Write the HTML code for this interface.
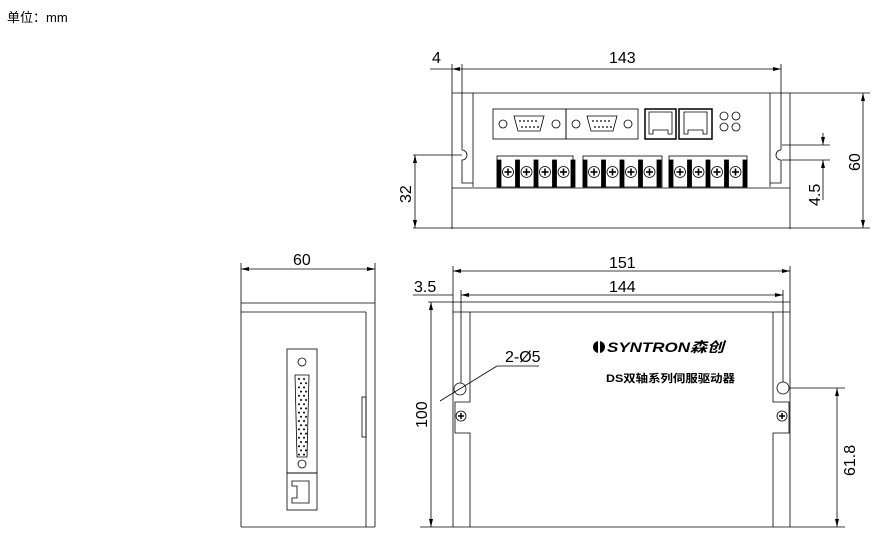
<!DOCTYPE html>
<html><head><meta charset="utf-8"><style>
html,body{margin:0;padding:0;background:#fff;}
svg{display:block;}
text{font-family:"Liberation Sans","Noto Sans CJK SC",sans-serif;fill:#000;}
</style></head><body>
<svg id="s" width="874" height="536" viewBox="0 0 874 536" xmlns="http://www.w3.org/2000/svg">
<defs>
<marker id="a" markerWidth="8" markerHeight="4" refX="8" refY="2" orient="auto-start-reverse" markerUnits="userSpaceOnUse"><path d="M0,0 L8,2 L0,4z" fill="#000"/></marker>
</defs>
<text x="7" y="22" font-size="13">单位：mm</text>
<g stroke="#000" stroke-width="0.8" fill="none">
<!-- TOP VIEW -->
<line x1="452" y1="64" x2="452" y2="229"/>
<line x1="462" y1="64" x2="462" y2="150"/>
<line x1="781" y1="64" x2="781" y2="150"/>
<line x1="430" y1="69" x2="452" y2="69"/>
<line x1="452" y1="69" x2="781" y2="69" marker-start="url(#a)" marker-end="url(#a)"/>
<line x1="452" y1="93" x2="870" y2="93"/>
<line x1="790" y1="93" x2="790" y2="229"/>
<line x1="473" y1="93" x2="473" y2="187"/>
<line x1="770" y1="93" x2="770" y2="187"/>
<path d="M462,150 A5,5 0 0 1 462,160 L462,183 L473,183"/>
<path d="M781,150 A5,5 0 0 0 781,160 L781,183 L770,183"/>
<line x1="413" y1="155" x2="462" y2="155"/>
<line x1="452" y1="188" x2="790" y2="188"/>
<line x1="413" y1="228" x2="870" y2="228"/>
<line x1="415" y1="155" x2="415" y2="228" marker-start="url(#a)" marker-end="url(#a)"/>
<line x1="863" y1="93" x2="863" y2="228" marker-start="url(#a)" marker-end="url(#a)"/>
<line x1="782" y1="145" x2="830" y2="145"/>
<line x1="782" y1="160" x2="830" y2="160"/>
<line x1="823" y1="133" x2="823" y2="145" marker-end="url(#a)"/>
<line x1="823" y1="200" x2="823" y2="160" marker-end="url(#a)"/>
<!-- connectors -->
<rect x="493" y="109" width="73" height="30"/>
<rect x="566" y="109" width="72" height="30"/>
<path d="M514,116 h30 l-4,15 h-22z"/>
<path d="M587,116 h30 l-4,15 h-22z"/>
<circle cx="503" cy="124" r="4"/><circle cx="556" cy="124" r="4"/>
<circle cx="576" cy="124" r="4"/><circle cx="628" cy="124" r="4"/>
<rect x="645" y="109" width="31" height="30" stroke-width="1.5"/>
<rect x="679" y="109" width="33" height="30" stroke-width="1.5"/>
<path d="M649,112 h23 v22 h-4 v-4 h-15 v4 h-4z"/>
<path d="M684,112 h23 v22 h-4 v-4 h-15 v4 h-4z"/>
<circle cx="724" cy="116" r="4"/><circle cx="736" cy="116" r="4"/>
<circle cx="724" cy="127" r="4"/><circle cx="736" cy="127" r="4"/>
<rect x="497" y="156" width="76" height="31"/>
<rect x="583" y="156" width="79" height="31"/>
<rect x="669" y="156" width="78" height="31"/>
<g id="screws"></g>
<!-- FRONT VIEW -->
<line x1="453" y1="266" x2="453" y2="527"/>
<line x1="790" y1="266" x2="790" y2="527"/>
<line x1="453" y1="271" x2="790" y2="271" marker-start="url(#a)" marker-end="url(#a)"/>
<line x1="413" y1="295" x2="453" y2="295"/>
<line x1="461" y1="295" x2="783" y2="295" marker-start="url(#a)" marker-end="url(#a)"/>
<line x1="461" y1="290" x2="461" y2="383"/>
<line x1="783" y1="290" x2="783" y2="382"/>
<line x1="428" y1="302" x2="790" y2="302"/>
<line x1="453" y1="312" x2="790" y2="312"/>
<path d="M470,312 V402 H455 V433 H470 V527"/>
<path d="M773,312 V402 H789 V433 H773 V527"/>
<circle cx="460" cy="389" r="6"/>
<circle cx="783" cy="388" r="6"/>
<line x1="420" y1="527" x2="845" y2="527"/>
<line x1="431" y1="302" x2="431" y2="527" marker-start="url(#a)" marker-end="url(#a)"/>
<line x1="789" y1="388" x2="845" y2="388"/>
<line x1="837" y1="388" x2="837" y2="527" marker-start="url(#a)" marker-end="url(#a)"/>
<line x1="539" y1="366" x2="497" y2="366"/>
<line x1="497" y1="366" x2="440" y2="401"/>
<circle cx="461" cy="416" r="5"/><circle cx="782" cy="416" r="5"/>
<!-- SIDE VIEW -->
<line x1="241" y1="263" x2="241" y2="527"/>
<line x1="375" y1="263" x2="375" y2="527"/>
<line x1="241" y1="269" x2="375" y2="269" marker-start="url(#a)" marker-end="url(#a)"/>
<line x1="241" y1="303" x2="375" y2="303"/>
<line x1="241" y1="312" x2="366" y2="312"/>
<line x1="366" y1="312" x2="366" y2="527"/>
<line x1="241" y1="527" x2="375" y2="527"/>
<rect x="362" y="397" width="4" height="40"/>
<rect x="287" y="349" width="30" height="124"/>
<rect x="287" y="473" width="30" height="37"/>
<path d="M292,481 h17 v22 h-17 v-5 h5 v-12 h-5z"/>
<path d="M295,375 h14 l-2,82 h-10z"/>
<circle cx="302" cy="362" r="4"/><circle cx="302" cy="464" r="4"/>
</g>
<g id="dots" fill="#000"></g>
<g font-size="16">
<text x="432" y="63">4</text>
<text x="609" y="63">143</text>
<text x="609" y="268">151</text>
<text x="414" y="292">3.5</text>
<text x="609" y="292">144</text>
<text x="293" y="265">60</text>
<text x="505" y="362">2-Ø5</text>
<text transform="translate(411,203) rotate(-90)">32</text>
<text transform="translate(860,171) rotate(-90)">60</text>
<text transform="translate(820,206) rotate(-90)">4.5</text>
<text transform="translate(427,428) rotate(-90)">100</text>
<text transform="translate(855,476) rotate(-90)">61.8</text>
</g>
<circle cx="599" cy="347" r="6" fill="#000"/>
<rect x="598" y="341" width="2" height="12" fill="#fff"/>
<text x="607" y="352" font-size="14" font-weight="bold" font-style="italic" textLength="117" lengthAdjust="spacingAndGlyphs">SYNTRON森创</text>
<text x="606" y="382" font-size="11" font-weight="bold" textLength="129" lengthAdjust="spacingAndGlyphs">DS双轴系列伺服驱动器</text>
</svg>
<script>
var ns="http://www.w3.org/2000/svg",g=document.getElementById("screws");
function el(t,a){var e=document.createElementNS(ns,t);for(var k in a)e.setAttribute(k,a[k]);g.appendChild(e);return e;}
[497,583,669].forEach(function(x0){
 for(var i=0;i<5;i++){el("rect",{x:x0+i*18.5,y:160,width:4,height:27,fill:"#000"});}
 for(var i=0;i<4;i++){var cx=x0+i*18.5+11;el("circle",{cx:cx,cy:172,r:5.5});
  el("line",{x1:cx-3.5,y1:172,x2:cx+3.5,y2:172,"stroke-width":1.6});el("line",{x1:cx,y1:168.5,x2:cx,y2:175.5,"stroke-width":1.6});}
});
[[461,416],[782,416]].forEach(function(p){el("line",{x1:p[0]-3,y1:p[1],x2:p[0]+3,y2:p[1],"stroke-width":1.5});el("line",{x1:p[0],y1:p[1]-3,x2:p[0],y2:p[1]+3,"stroke-width":1.5});});
var d=document.getElementById("dots");
for(var r=0;r<19;r++){for(var c=0;c<2;c++){var e=document.createElementNS(ns,"circle");e.setAttribute("cx",299+c*5+(r%2)*2);e.setAttribute("cy",379+r*4.2);e.setAttribute("r",1);d.appendChild(e);}}
for(var r=0;r<2;r++)for(var c=0;c<5;c++){[[520,0],[593,0]].forEach(function(o){var e=document.createElementNS(ns,"circle");e.setAttribute("cx",o[0]+c*4+r*2);e.setAttribute("cy",121+r*6);e.setAttribute("r",0.9);d.appendChild(e);});}
</script>
</body></html>
